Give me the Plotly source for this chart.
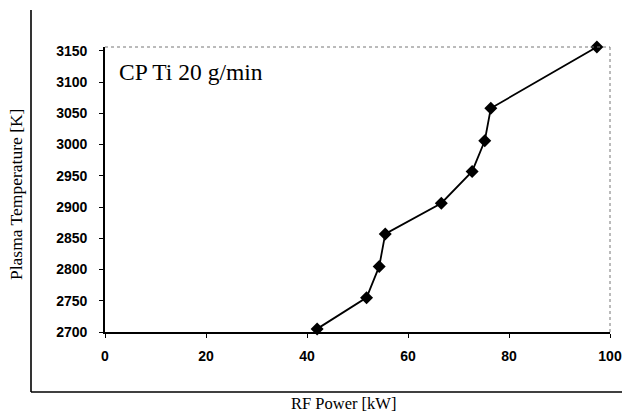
import plotly.graph_objects as go

# RF power sweep and measured plasma temperature
rf_power_kw = [42.0, 51.8, 54.3, 55.5, 66.6, 72.7, 75.2, 76.4, 97.4]
plasma_temp_k = [2705, 2755, 2805, 2857, 2906, 2957, 3006, 3058, 3156]

x_ticks = [0, 20, 40, 60, 80, 100]
y_ticks = [2700, 2750, 2800, 2850, 2900, 2950, 3000, 3050, 3100, 3150]

serif = "Liberation Serif, Times New Roman, serif"
sans = "Liberation Sans, Arial, sans-serif"

# plot area in pixels: x 105..610, y 47..332
L, R, T, B = 105, 12, 47, 80
W, H = 622, 412
pw, ph = W - L - R, H - T - B


def px(x):
    return (x - L) / pw


def py(y):
    return (H - B - y) / ph


fig = go.Figure()
fig.add_trace(go.Scatter(
    x=rf_power_kw, y=plasma_temp_k, mode="lines+markers",
    line=dict(color="black", width=1.8),
    marker=dict(symbol="diamond", size=10, color="black"),
    cliponaxis=False, showlegend=False,
))

axis_common = dict(
    showgrid=False, zeroline=False, automargin=False,
    showline=True, linecolor="black", linewidth=1.6,
    ticks="outside", ticklen=4, tickcolor="black", tickwidth=1.3,
    tickfont=dict(family=sans, size=14, color="black", weight="bold"),
)

fig.update_layout(
    width=W, height=H,
    margin=dict(l=L, r=R, t=T, b=B),
    paper_bgcolor="white", plot_bgcolor="white",
    xaxis=dict(range=[0, 100], tickvals=x_ticks, ticklabelstandoff=6, **axis_common),
    yaxis=dict(range=[2700, 3156], tickvals=y_ticks, ticklabelstandoff=9, **axis_common),
    shapes=[
        # dotted top and right edges of the plot area
        dict(type="line", xref="paper", yref="paper", x0=0, y0=1, x1=1, y1=1,
             line=dict(color="#777777", width=1, dash="dot")),
        dict(type="line", xref="paper", yref="paper", x0=1, y0=0, x1=1, y1=1,
             line=dict(color="#777777", width=1, dash="dot")),
        # outer chart frame (left and bottom)
        dict(type="line", xref="paper", yref="paper", x0=px(31), y0=py(392), x1=px(31), y1=py(10),
             line=dict(color="black", width=1.6)),
        dict(type="line", xref="paper", yref="paper", x0=px(31), y0=py(392), x1=px(622), y1=py(392),
             line=dict(color="black", width=1.6)),
    ],
    annotations=[
        dict(text="CP Ti 20 g/min", xref="paper", yref="paper", x=px(117), y=py(72),
             xanchor="left", yanchor="middle", showarrow=False,
             font=dict(family=serif, size=23.5, color="black")),
        dict(text="RF Power [kW]", xref="paper", yref="paper", x=px(343), y=py(404),
             xanchor="center", yanchor="middle", showarrow=False,
             font=dict(family=serif, size=16.5, color="black")),
        dict(text="Plasma Temperature [K]", xref="paper", yref="paper", x=px(16), y=py(195),
             xanchor="center", yanchor="middle", showarrow=False, textangle=-90,
             font=dict(family=serif, size=17.5, color="black")),
    ],
)

fig.write_html("out.html")
